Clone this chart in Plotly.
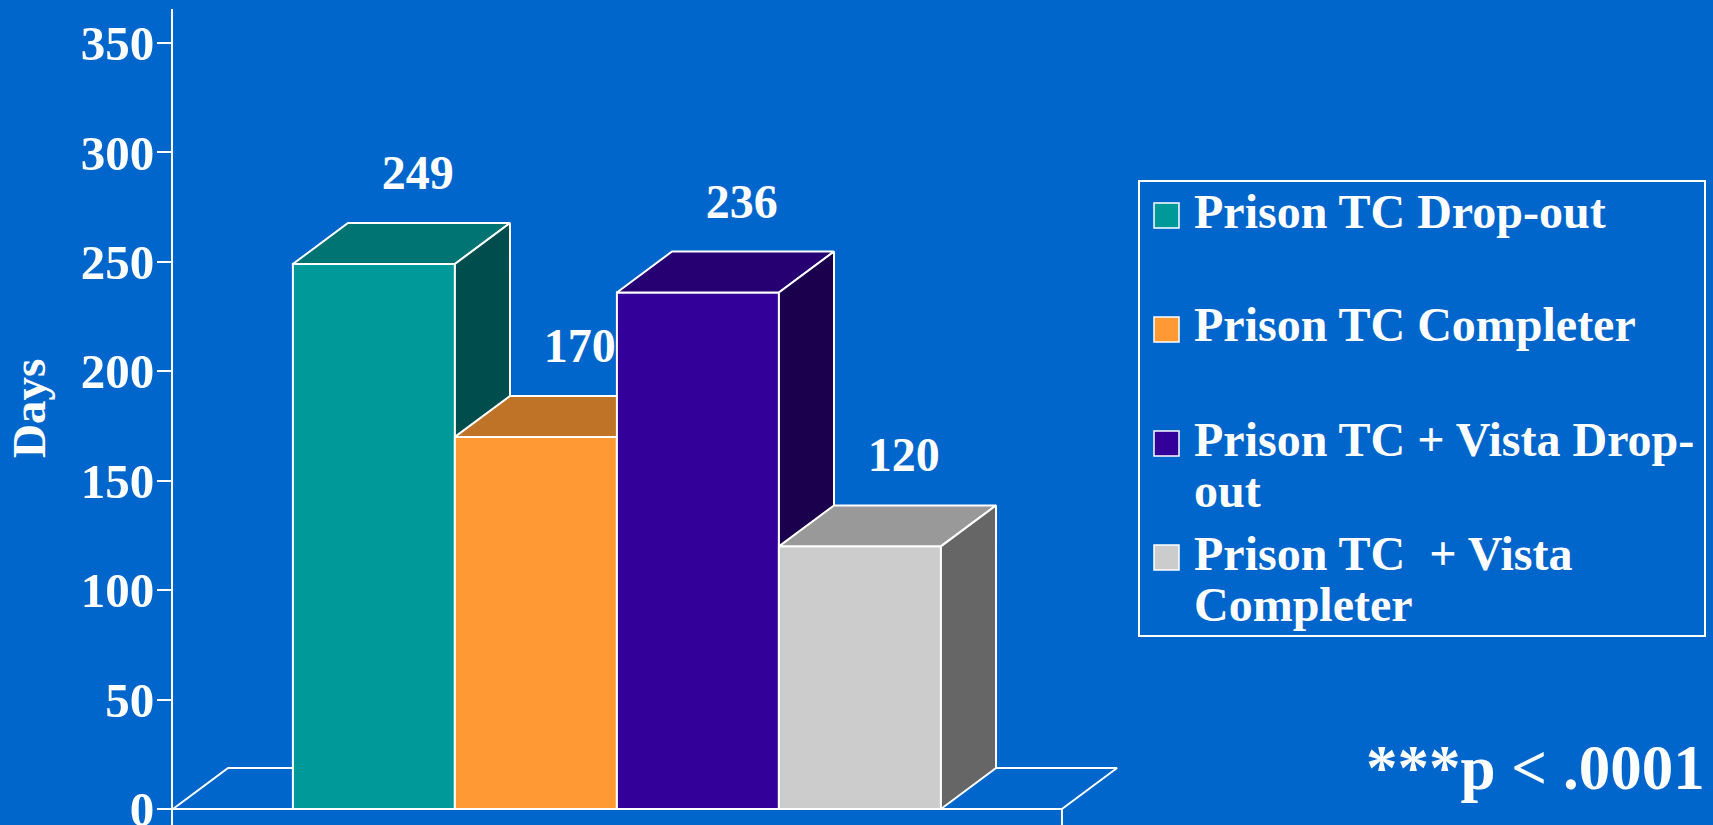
import plotly.graph_objects as go

# data
groups = ["Prison TC Drop-out", "Prison TC Completer",
          "Prison TC + Vista Drop-out", "Prison TC  + Vista Completer"]
legend_lines = [["Prison TC Drop-out"], ["Prison TC Completer"],
                ["Prison TC + Vista Drop-", "out"], ["Prison TC \u00a0+ Vista", "Completer"]]
days = [249, 170, 236, 120]
y_ticks = [0, 50, 100, 150, 200, 250, 300, 350]

front_colors = ["#009999", "#FF9933", "#330099", "#CCCCCC"]
top_colors = ["#007373", "#BF7326", "#260073", "#999999"]
side_colors = ["#004D4D", "#804D1A", "#1A004D", "#666666"]

BG = "#0066CC"
FONT = "Liberation Serif, Times New Roman, serif"
W, H = 1713, 825
PL, PT, PR = 173, 9, 1130          # plot area in pixels (bottom = page bottom)
DX, DY = 0.34, 18.7                # depth of the fake 3d boxes, in axis units
X_MIN, X_END, X_MAX = -1.24, 4.247, 4.667
Y_MIN, Y_MAX = -7.31, 365.5
EDGE = dict(color="white", width=2)


def px(x):
    return (x - PL) / (PR - PL)


def py(y):
    return (H - y) / (H - PT)


def bold(size):
    return dict(family=FONT, size=size, color="white", weight="bold")


fig = go.Figure()

# floor + category axis line
fig.add_trace(go.Scatter(
    x=[X_MIN, X_MIN + DX, X_END + DX, X_END],
    y=[0, DY, DY, 0], mode="lines", line=EDGE,
    showlegend=False, hoverinfo="skip"))
fig.add_trace(go.Scatter(
    x=[X_MIN, X_END, X_END], y=[0, 0, Y_MIN], mode="lines", line=EDGE,
    showlegend=False, hoverinfo="skip"))

# boxes, left to right so each one hides the side of the previous
for i, v in enumerate(days):
    x0, x1 = i - 0.5, i + 0.5
    faces = [
        ([x0, x1, x1, x0, x0], [0, 0, v, v, 0], front_colors[i]),
        ([x0, x1, x1 + DX, x0 + DX, x0], [v, v, v + DY, v + DY, v], top_colors[i]),
        ([x1, x1 + DX, x1 + DX, x1, x1], [0, DY, v + DY, v, 0], side_colors[i]),
    ]
    for fx, fy, col in faces:
        fig.add_trace(go.Scatter(
            x=fx, y=fy, mode="lines", fill="toself", fillcolor=col,
            line=EDGE, showlegend=False, hoverinfo="text", text=f"{groups[i]}: {v}"))

# value labels
fig.add_trace(go.Scatter(
    x=[i + 0.27 for i in range(len(days))],
    y=[v + DY + 21 for v in days],
    mode="text", text=[str(v) for v in days], textfont=bold(48),
    showlegend=False, hoverinfo="skip"))

# legend box drawn by hand (PowerPoint style spacing)
shapes = [dict(type="rect", xref="paper", yref="paper",
               x0=px(1139), x1=px(1705), y0=py(636), y1=py(181),
               line=dict(color="white", width=2))]
annotations = []
row_y, row_step, line_step = 215, 114, 51
for i, lines in enumerate(legend_lines):
    yc = row_y + i * row_step
    shapes.append(dict(type="rect", xref="paper", yref="paper",
                       x0=px(1154), x1=px(1179), y0=py(yc + 13), y1=py(yc - 12),
                       fillcolor=front_colors[i], line=dict(color="white", width=1.5)))
    for k, txt in enumerate(lines):
        annotations.append(dict(text=txt, xref="paper", yref="paper",
                                x=px(1192), y=py(yc + k * line_step - 4),
                                xanchor="left", yanchor="middle", showarrow=False,
                                font=bold(48)))

annotations += [
    dict(text="Days", xref="paper", yref="paper", x=px(29), y=py(409),
         xanchor="center", yanchor="middle", textangle=-90, showarrow=False,
         font=bold(47)),
    dict(text="***p < .0001", xref="paper", yref="paper", x=px(1707), y=py(768),
         xanchor="right", yanchor="middle", showarrow=False, font=bold(63)),
]

fig.update_layout(
    width=W, height=H,
    paper_bgcolor=BG, plot_bgcolor=BG,
    margin=dict(l=PL, r=W - PR, t=PT, b=0, autoexpand=False),
    font=dict(family=FONT, color="white"),
    xaxis=dict(range=[X_MIN, X_MAX], visible=False, automargin=False),
    yaxis=dict(range=[Y_MIN, Y_MAX], tickvals=y_ticks, showgrid=False, zeroline=False,
               showline=True, linecolor="white", linewidth=2, automargin=False,
               ticks="outside", ticklen=14, tickwidth=2, tickcolor="white",
               ticklabeloverflow="allow", ticklabelstandoff=-7, tickfont=bold(49)),
    shapes=shapes,
    annotations=annotations,
    showlegend=False,
)

# the page body has a default 8px margin; drop it so the figure fills the window
fig.write_html("out.html", config={"displayModeBar": False},
               post_script="document.body.style.margin='0';")
